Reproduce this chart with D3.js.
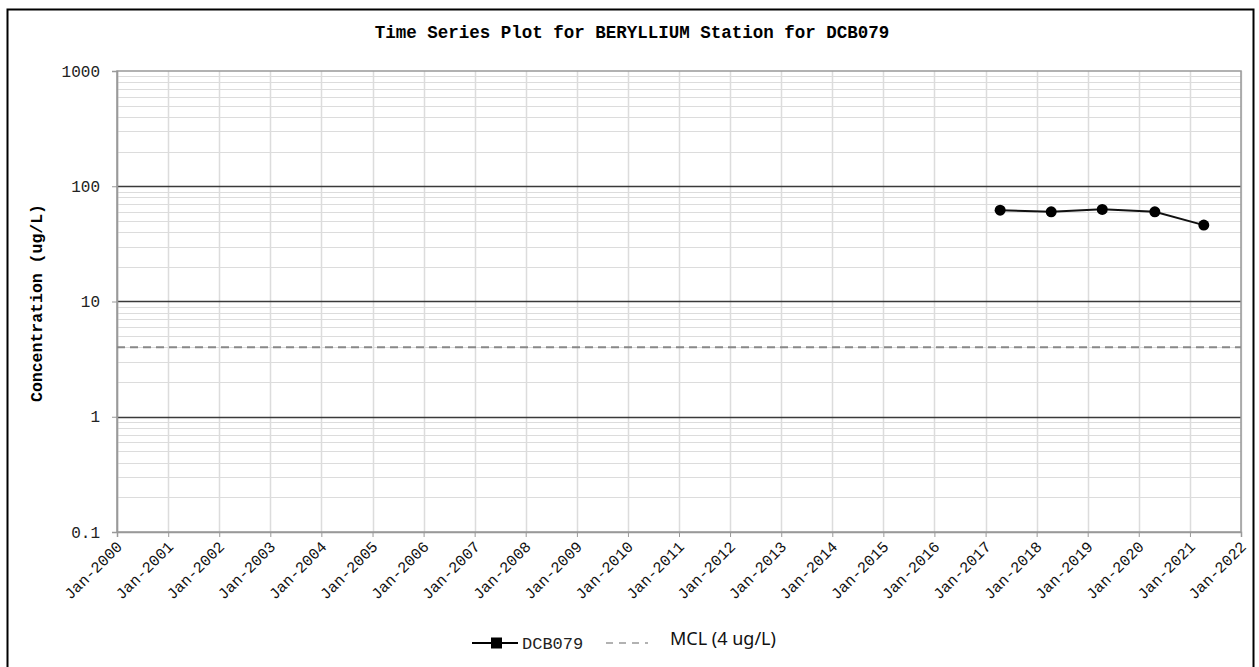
<!DOCTYPE html>
<html>
<head>
<meta charset="utf-8">
<script src="https://cdn.jsdelivr.net/npm/d3@7"></script>
<style>
  body { margin: 0; background: #fff; }
  svg { display: block; }
</style>
</head>
<body>
<div id="canvasRoot"></div>
<script>
// Data
const sampleDates = ["2017-04-15", "2018-04-15", "2019-04-15", "2020-04-25", "2021-04-10"];
const dcb079 = [62, 60, 63, 60, 46];
const mclValue = 4;
const yTicks = [0.1, 1, 10, 100, 1000];
const xTickYears = d3.range(2000, 2023);

const W = 1259, H = 667;
const margin = {left: 117, top: 71, right: 1241, bottom: 532};
const mono = "'Liberation Mono', 'DejaVu Sans Mono', monospace";

let svg = d3.select("#canvasRoot").append("svg")
  .attr("width", W)
  .attr("height", H);

//Outer frame (bottom edge runs off the picture)
svg.append("rect")
  .attr("x", 7.5).attr("y", 9.5)
  .attr("width", 1246).attr("height", 700)
  .attr("fill", "none")
  .attr("stroke", "#000")
  .attr("stroke-width", 2);

//Scales
let x = d3.scaleTime()
  .domain([new Date(2000, 0, 1), new Date(2022, 0, 1)])
  .range([margin.left, margin.right]);
let y = d3.scaleLog()
  .domain([0.1, 1000])
  .range([margin.bottom, margin.top]);

//Minor horizontal grid (2..9 of each decade)
let minors = [];
yTicks.slice(0, -1).forEach(d => {
  for (let k = 2; k <= 9; k++) minors.push(d * k);
});
svg.append("g").selectAll("line")
  .data(minors)
  .enter().append("line")
  .attr("x1", margin.left).attr("x2", margin.right)
  .attr("y1", d => Math.round(y(d)) + 0.5)
  .attr("y2", d => Math.round(y(d)) + 0.5)
  .attr("stroke", "#dcdcdc")
  .attr("stroke-width", 1);

//Vertical grid
svg.append("g").selectAll("line")
  .data(xTickYears)
  .enter().append("line")
  .attr("x1", d => Math.round(x(new Date(d, 0, 1))) + 0.5)
  .attr("x2", d => Math.round(x(new Date(d, 0, 1))) + 0.5)
  .attr("y1", margin.top).attr("y2", margin.bottom)
  .attr("stroke", "#dcdcdc")
  .attr("stroke-width", 1.5);

//Major horizontal grid
svg.append("g").selectAll("line")
  .data(yTicks.slice(1, -1))
  .enter().append("line")
  .attr("x1", margin.left).attr("x2", margin.right)
  .attr("y1", d => Math.round(y(d)) + 0.5)
  .attr("y2", d => Math.round(y(d)) + 0.5)
  .attr("stroke", "#3a3a3a")
  .attr("stroke-width", 1.3);

//Plot frame
svg.append("rect")
  .attr("x", margin.left).attr("y", margin.top)
  .attr("width", margin.right - margin.left)
  .attr("height", margin.bottom - margin.top)
  .attr("fill", "none")
  .attr("stroke", "#999")
  .attr("stroke-width", 1.5);

//Y axis
let yAxis = svg.append("g")
  .attr("transform", `translate(${margin.left},0)`)
  .call(d3.axisLeft(y).tickValues(yTicks).tickFormat(d => String(d)).tickSize(5).tickPadding(12));
yAxis.select(".domain").attr("stroke", "#999").attr("stroke-width", 1.5);
yAxis.selectAll(".tick line").attr("stroke", "#999");
yAxis.selectAll(".tick text")
  .attr("font-family", mono)
  .attr("font-size", 16)
  .attr("fill", "#222");

//X axis
let xAxis = svg.append("g")
  .attr("transform", `translate(0,${margin.bottom})`)
  .call(d3.axisBottom(x)
    .tickValues(xTickYears.map(d => new Date(d, 0, 1)))
    .tickFormat(d3.timeFormat("%b-%Y"))
    .tickSize(5));
xAxis.select(".domain").attr("stroke", "#999").attr("stroke-width", 1.5);
xAxis.selectAll(".tick line").attr("stroke", "#999");
xAxis.selectAll(".tick text")
  .attr("font-family", mono)
  .attr("font-size", 15.5)
  .attr("fill", "#111")
  .attr("text-anchor", "end")
  .attr("dx", 0).attr("dy", 0)
  .attr("transform", "translate(0,10) rotate(-45)");

//MCL line
svg.append("line")
  .attr("x1", margin.left).attr("x2", margin.right)
  .attr("y1", y(mclValue)).attr("y2", y(mclValue))
  .attr("stroke", "#888")
  .attr("stroke-width", 2)
  .attr("stroke-dasharray", "8,5");

//Series
let parse = d3.timeParse("%Y-%m-%d");
let pts = sampleDates.map((d, i) => ({date: parse(d), value: dcb079[i]}));
svg.append("path")
  .datum(pts)
  .attr("fill", "none")
  .attr("stroke", "#111")
  .attr("stroke-width", 2)
  .attr("d", d3.line().x(d => x(d.date)).y(d => y(d.value)));
svg.append("g").selectAll("circle")
  .data(pts)
  .enter().append("circle")
  .attr("cx", d => x(d.date))
  .attr("cy", d => y(d.value))
  .attr("r", 5.5)
  .attr("fill", "#000");

//Title
svg.append("text")
  .attr("x", 632).attr("y", 38)
  .attr("text-anchor", "middle")
  .attr("font-family", mono)
  .attr("font-weight", "bold")
  .attr("font-size", 17.5)
  .text("Time Series Plot for BERYLLIUM Station for DCB079");

//Y title
svg.append("text")
  .attr("transform", "translate(42,303) rotate(-90)")
  .attr("text-anchor", "middle")
  .attr("font-family", mono)
  .attr("font-weight", "bold")
  .attr("font-size", 16.5)
  .text("Concentration (ug/L)");

//Legend
let lg = svg.append("g").attr("transform", "translate(472,643)");
lg.append("line")
  .attr("x1", 0).attr("x2", 46)
  .attr("stroke", "#000").attr("stroke-width", 2);
lg.append("rect")
  .attr("x", 19).attr("y", -5.5).attr("width", 11).attr("height", 11)
  .attr("fill", "#000");
lg.append("text")
  .attr("x", 50).attr("y", 5.5)
  .attr("font-family", mono)
  .attr("font-size", 17)
  .attr("fill", "#222")
  .text("DCB079");
lg.append("line")
  .attr("x1", 134).attr("x2", 176)
  .attr("stroke", "#999").attr("stroke-width", 1.5)
  .attr("stroke-dasharray", "7,6");
lg.append("text")
  .attr("x", 198).attr("y", 2)
  .attr("font-family", "'Noto Sans', 'Open Sans', sans-serif")
  .attr("font-size", 18)
  .attr("fill", "#111")
  .text("MCL (4 ug/L)");
</script>
</body>
</html>
